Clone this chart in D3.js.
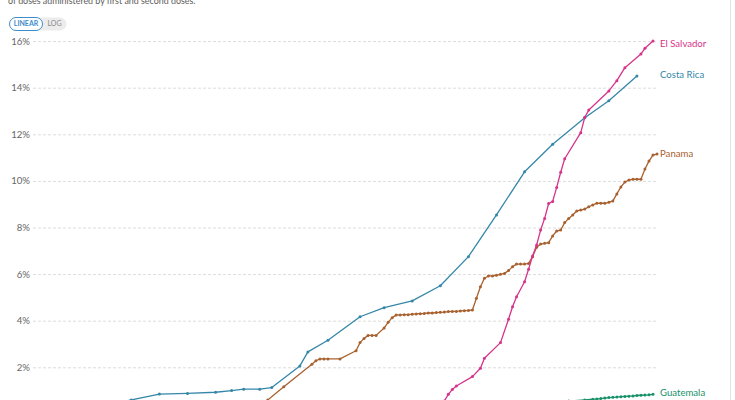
<!DOCTYPE html>
<html>
<head>
<meta charset="utf-8">
<script src="https://cdn.jsdelivr.net/npm/d3@7"></script>
<style>
html,body{margin:0;padding:0;background:#fff;overflow:hidden;}
svg{display:block;font-family:Lato,"Noto Sans",sans-serif;}
</style>
</head>
<body>
<svg id="chart" width="735" height="400"></svg>
<script>
const subtitle = "of doses administered by first and second doses.";
const yTicks = [2, 4, 6, 8, 10, 12, 14, 16];
const dateDomain = ["2020-12-24", "2021-05-28"];

const costaRicaDates = ["2020-12-27","2021-01-03","2021-01-10","2021-01-17","2021-01-24","2021-01-31","2021-02-07","2021-02-11","2021-02-14","2021-02-18","2021-02-21","2021-02-28","2021-03-02","2021-03-07","2021-03-15","2021-03-21","2021-03-28","2021-04-04","2021-04-11","2021-04-18","2021-04-25","2021-05-02","2021-05-10","2021-05-16","2021-05-23"];
const costaRicaValues = [0.02,0.12,0.36,0.60,0.85,0.88,0.93,1.00,1.06,1.06,1.13,2.06,2.66,3.16,4.17,4.56,4.85,5.50,6.75,8.54,10.39,11.57,12.71,13.44,14.50];

const panamaDates = ["2021-02-16","2021-02-18","2021-02-20","2021-02-24","2021-03-03","2021-03-04","2021-03-05","2021-03-06","2021-03-07","2021-03-10","2021-03-14","2021-03-15","2021-03-16","2021-03-17","2021-03-18","2021-03-19","2021-03-21","2021-03-22","2021-03-23","2021-03-24","2021-03-25","2021-03-26","2021-03-27","2021-03-28","2021-03-29","2021-03-30","2021-03-31","2021-04-01","2021-04-02","2021-04-03","2021-04-04","2021-04-05","2021-04-06","2021-04-07","2021-04-08","2021-04-09","2021-04-10","2021-04-11","2021-04-12","2021-04-13","2021-04-14","2021-04-15","2021-04-16","2021-04-17","2021-04-18","2021-04-19","2021-04-20","2021-04-21","2021-04-22","2021-04-23","2021-04-24","2021-04-25","2021-04-26","2021-04-27","2021-04-28","2021-04-29","2021-04-30","2021-05-01","2021-05-02","2021-05-03","2021-05-04","2021-05-05","2021-05-06","2021-05-07","2021-05-08","2021-05-09","2021-05-10","2021-05-11","2021-05-12","2021-05-13","2021-05-14","2021-05-15","2021-05-16","2021-05-17","2021-05-18","2021-05-19","2021-05-20","2021-05-21","2021-05-22","2021-05-23","2021-05-24","2021-05-25","2021-05-26","2021-05-27","2021-05-28"];
const panamaValues = [0.02,0.30,0.60,1.17,2.13,2.28,2.36,2.36,2.36,2.36,2.71,3.06,3.24,3.37,3.37,3.37,3.69,3.93,4.13,4.24,4.25,4.26,4.26,4.28,4.29,4.30,4.31,4.33,4.33,4.35,4.36,4.37,4.39,4.40,4.40,4.42,4.43,4.44,4.46,4.96,5.46,5.82,5.92,5.92,5.95,5.99,6.03,6.15,6.32,6.43,6.43,6.43,6.46,6.75,7.15,7.29,7.32,7.35,7.64,7.85,7.89,8.21,8.39,8.54,8.71,8.75,8.79,8.89,8.97,9.04,9.04,9.04,9.08,9.14,9.44,9.74,9.95,10.04,10.07,10.07,10.07,10.51,10.85,11.11,11.15];

const elSalvadorDates = ["2021-04-04","2021-04-05","2021-04-06","2021-04-07","2021-04-08","2021-04-12","2021-04-14","2021-04-15","2021-04-19","2021-04-21","2021-04-22","2021-04-23","2021-04-25","2021-04-26","2021-04-27","2021-04-28","2021-04-29","2021-04-30","2021-05-01","2021-05-02","2021-05-03","2021-05-04","2021-05-05","2021-05-09","2021-05-10","2021-05-11","2021-05-16","2021-05-18","2021-05-20","2021-05-24","2021-05-25","2021-05-27"];
const elSalvadorValues = [0.20,0.55,0.84,1.05,1.20,1.60,1.96,2.39,3.06,4.06,4.60,5.03,5.67,6.21,6.78,7.25,7.89,8.39,9.03,9.12,9.72,10.37,10.95,12.07,12.73,13.04,13.86,14.30,14.86,15.45,15.69,16.00];

const guatemalaDates = ["2021-05-01","2021-05-06","2021-05-10","2021-05-12","2021-05-13","2021-05-14","2021-05-15","2021-05-16","2021-05-17","2021-05-18","2021-05-19","2021-05-20","2021-05-21","2021-05-22","2021-05-23","2021-05-24","2021-05-25","2021-05-26","2021-05-27"];
const guatemalaValues = [0.42,0.55,0.60,0.63,0.64,0.66,0.68,0.70,0.71,0.72,0.74,0.75,0.76,0.77,0.79,0.80,0.81,0.82,0.84];

const hondurasDates = ["2021-05-03","2021-05-13","2021-05-27"];
const hondurasValues = [0.25,0.33,0.42];

const seriesNames = ["El Salvador","Costa Rica","Panama","Guatemala","Honduras"];
const seriesColors = ["#d6338b","#3587a8","#a8612f","#17916a","#4f6ea3"];
const seriesDates = [elSalvadorDates, costaRicaDates, panamaDates, guatemalaDates, hondurasDates];
const seriesValues = [elSalvadorValues, costaRicaValues, panamaValues, guatemalaValues, hondurasValues];

const parse = d3.utcParse("%Y-%m-%d");
const series = seriesNames.map((name, i) => ({
  name, color: seriesColors[i],
  points: seriesDates[i].map((d, j) => ({date: parse(d), value: seriesValues[i][j]}))
}));

const svg = d3.select("#chart");
const x = d3.scaleUtc().domain(dateDomain.map(parse)).range([35, 657]);
const y = d3.scaleLinear().domain([0, 16]).range([413.9, 41.1]);

// subtitle (cropped at top, as in the reference)
svg.append("text").attr("x", 8).attr("y", 3.5)
  .attr("font-size", 8.9).attr("fill", "#5b5b5b").text(subtitle);

// linear/log toggle
const tg = svg.append("g");
tg.append("rect").attr("x", 36).attr("y", 17.5).attr("width", 30.5).attr("height", 13).attr("rx", 6.5).attr("fill", "#ececec");
tg.append("rect").attr("x", 9.5).attr("y", 17.5).attr("width", 33).attr("height", 13).attr("rx", 6.5)
  .attr("fill", "#fff").attr("stroke", "#3d8ccb").attr("stroke-width", 1);
tg.append("text").attr("x", 26).attr("y", 24.3).attr("text-anchor", "middle").attr("dominant-baseline", "middle")
  .attr("font-size", 7).attr("font-weight", 700).attr("fill", "#3d8ccb").text("LINEAR");
tg.append("text").attr("x", 54.5).attr("y", 24.3).attr("text-anchor", "middle").attr("dominant-baseline", "middle")
  .attr("font-size", 7).attr("fill", "#8a8a8a").text("LOG");

// y grid + labels
const yAxis = d3.axisLeft(y).tickValues(yTicks).tickSize(-(657 - 33)).tickFormat(d => d + "%");
const ga = svg.append("g").attr("transform", "translate(33,0)").call(yAxis);
ga.select(".domain").remove();
ga.selectAll(".tick line").attr("stroke", "#dcdcdc").attr("stroke-dasharray", "3,2");
ga.selectAll(".tick text").attr("x", -3).attr("font-size", 9.6).attr("fill", "#666")
  .attr("font-family", "Lato,sans-serif");

// lines
const line = d3.line().x(d => x(d.date)).y(d => y(d.value));
const drawOrder = [3, 4, 2, 1, 0];
drawOrder.forEach(i => {
  const s = series[i];
  svg.append("path").datum(s.points).attr("d", line)
    .attr("fill", "none").attr("stroke", s.color).attr("stroke-width", 1.3).attr("stroke-linejoin", "round");
  svg.append("g").selectAll("circle").data(s.points).join("circle")
    .attr("cx", d => x(d.date)).attr("cy", d => y(d.value)).attr("r", 1.5).attr("fill", s.color);
});

// end labels with simple collision avoidance
const labels = series.map(s => ({name: s.name, color: s.color, y: y(s.points[s.points.length - 1].value)}));
labels.sort((a, b) => a.y - b.y);
for (let it = 0; it < 50; it++) {
  for (let k = 1; k < labels.length; k++) {
    const gap = labels[k].y - labels[k - 1].y;
    if (gap < 12) { const p = (12 - gap) / 2; labels[k].y += p; labels[k - 1].y -= p; }
  }
  labels[0].y = Math.max(labels[0].y, 44.5);
}
svg.append("g").selectAll("text").data(labels).join("text")
  .attr("x", x.range()[1] + 3).attr("y", d => d.y).attr("dominant-baseline", "middle")
  .attr("font-size", 9.6).attr("fill", d => d.color).text(d => d.name);

// right frame edge
svg.append("line").attr("x1", 730.5).attr("x2", 730.5).attr("y1", 0).attr("y2", 400)
  .attr("stroke", "#e3e3e3");
</script>
</body>
</html>
